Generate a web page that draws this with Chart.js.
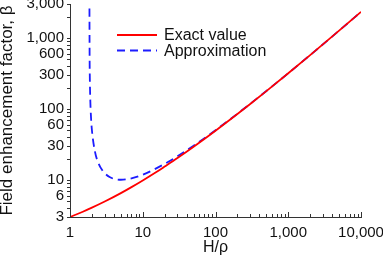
<!DOCTYPE html>
<html><head><meta charset="utf-8">
<script src="https://cdn.jsdelivr.net/npm/chart.js@4/dist/chart.umd.min.js"></script>
<style>html,body{margin:0;padding:0;background:#fff;overflow:hidden}</style>
</head><body>
<canvas id="c" width="383" height="265"></canvas>
<script>
// Values
const exactX = [1, 1.5, 2, 3, 5, 7, 10, 15, 20, 30, 50, 100, 200, 300, 500, 1000, 2000, 5000, 10000];
const exactY = [3, 3.56, 4.06, 4.95, 6.51, 7.91, 9.82, 12.7, 15.4, 20.3, 29.3, 49.3, 84.7, 117, 178, 317, 572, 1265, 2326];
const approxX = [1.849, 1.86, 1.87, 1.9, 1.95, 2, 2.2, 2.5, 2.8, 3, 3.5, 4, 5, 7, 10, 20, 30, 50, 100, 200, 500, 1000, 2000, 5000, 10000];
const approxY = [3934, 541, 306, 135, 72.1, 50.4, 25.2, 16.5, 13.5, 12.4, 10.95, 10.36, 10.04, 10.5, 11.8, 16.8, 21.5, 30.3, 50.1, 85.4, 178.5, 317.8, 572.5, 1265, 2327];
const seriesNames = ['Exact value', 'Approximation'];
const xMajorTicks = [1, 10, 100, 1000, 10000];
const xMinorTicks = [2,3,4,5,6,7,8,9,20,30,40,50,60,70,80,90,200,300,400,500,600,700,800,900,2000,3000,4000,5000,6000,7000,8000,9000];
const yLabelTicks = [3, 6, 10, 30, 60, 100, 300, 600, 1000, 3000];
const yMinorTicks = [4,5,7,8,9,20,40,50,70,80,90,200,400,500,700,800,900,2000];
const xTitle = 'H/ρ';
const yTitle = 'Field enhancement factor, β';

const colors = ['#ff0000', '#1c1cff'];
const fmt = v => Number(v).toLocaleString('en-US');

const axisDecor = {
  id: 'axisDecor',
  afterDraw(chart) {
    const {ctx, scales: {x, y}, chartArea} = chart;
    ctx.save();
    ctx.strokeStyle = '#333';
    ctx.lineWidth = 1;
    ctx.beginPath();
    x.ticks.forEach(t => {
      const px = Math.round(x.getPixelForValue(t.value)) + 0.5;
      const len = xMajorTicks.includes(t.value) ? 5 : 3;
      ctx.moveTo(px, chartArea.bottom);
      ctx.lineTo(px, chartArea.bottom - len);
    });
    y.ticks.forEach(t => {
      const py = Math.round(y.getPixelForValue(t.value)) + 0.5;
      ctx.moveTo(chartArea.left, py);
      ctx.lineTo(chartArea.left - 3, py);
    });
    ctx.stroke();
    // legend inside plot
    chart.data.datasets.forEach((ds, i) => {
      const ly = 35 + i * 15.5;
      ctx.beginPath();
      ctx.strokeStyle = ds.borderColor;
      ctx.lineWidth = ds.borderWidth;
      ctx.setLineDash(ds.borderDash || []);
      ctx.moveTo(117, ly);
      ctx.lineTo(157, ly);
      ctx.stroke();
      ctx.setLineDash([]);
      ctx.fillStyle = '#111';
      ctx.font = '16px "Liberation Sans", Arial, sans-serif';
      ctx.textBaseline = 'middle';
      ctx.textAlign = 'left';
      ctx.fillText(ds.label, 164, ly + 1);
    });
    ctx.restore();
  }
};

new Chart(document.getElementById('c'), {
  type: 'line',
  data: {
    datasets: [
      {
        label: seriesNames[0],
        data: exactX.map((v, i) => ({x: v, y: exactY[i]})),
        borderColor: colors[0],
        borderWidth: 1.8,
        pointRadius: 0,
        cubicInterpolationMode: 'monotone',
        fill: false
      },
      {
        label: seriesNames[1],
        data: approxX.map((v, i) => ({x: v, y: approxY[i]})),
        borderColor: colors[1],
        borderWidth: 1.8,
        borderDash: [8, 5],
        pointRadius: 0,
        cubicInterpolationMode: 'monotone',
        fill: false
      }
    ]
  },
  options: {
    responsive: false,
    animation: false,
    layout: {padding: {top: 4, right: 22, left: 0, bottom: 0}},
    plugins: {legend: {display: false}, tooltip: {enabled: false}},
    scales: {
      x: {
        type: 'logarithmic',
        min: 1, max: 10000,
        afterBuildTicks: s => { s.ticks = xMajorTicks.concat(xMinorTicks).sort((a, b) => a - b).map(v => ({value: v})); },
        afterFit: s => { s.height = 48; s.paddingLeft = 0; s.paddingRight = 0; },
        grid: {display: true, drawOnChartArea: false, drawTicks: false},
        border: {display: true, color: '#333', width: 1},
        ticks: {
          autoSkip: false, maxRotation: 0, padding: 7,
          color: '#111',
          font: {family: '"Liberation Sans", Arial, sans-serif', size: 15},
          callback: v => xMajorTicks.includes(v) ? fmt(v) : ''
        },
        title: {
          display: true, text: xTitle, color: '#111',
          font: {family: '"Liberation Sans", Arial, sans-serif', size: 16},
          padding: {top: 0, bottom: 8}
        }
      },
      y: {
        type: 'logarithmic',
        min: 3, max: 3000,
        afterBuildTicks: s => { s.ticks = yLabelTicks.concat(yMinorTicks).sort((a, b) => a - b).map(v => ({value: v})); },
        afterFit: s => { s.width = 70; s.paddingTop = 0; s.paddingBottom = 0; },
        grid: {display: true, drawOnChartArea: false, drawTicks: false},
        border: {display: true, color: '#333', width: 1},
        ticks: {
          autoSkip: false, padding: 6,
          color: '#111',
          font: {family: '"Liberation Sans", Arial, sans-serif', size: 15},
          callback: v => yLabelTicks.includes(v) ? fmt(v) : ''
        },
        title: {
          display: true, text: yTitle, color: '#111',
          font: {family: '"Liberation Sans", Arial, sans-serif', size: 17, lineHeight: 0.88},
          padding: {top: 0, bottom: 0}
        }
      }
    }
  },
  plugins: [axisDecor]
});
</script>
</body></html>
